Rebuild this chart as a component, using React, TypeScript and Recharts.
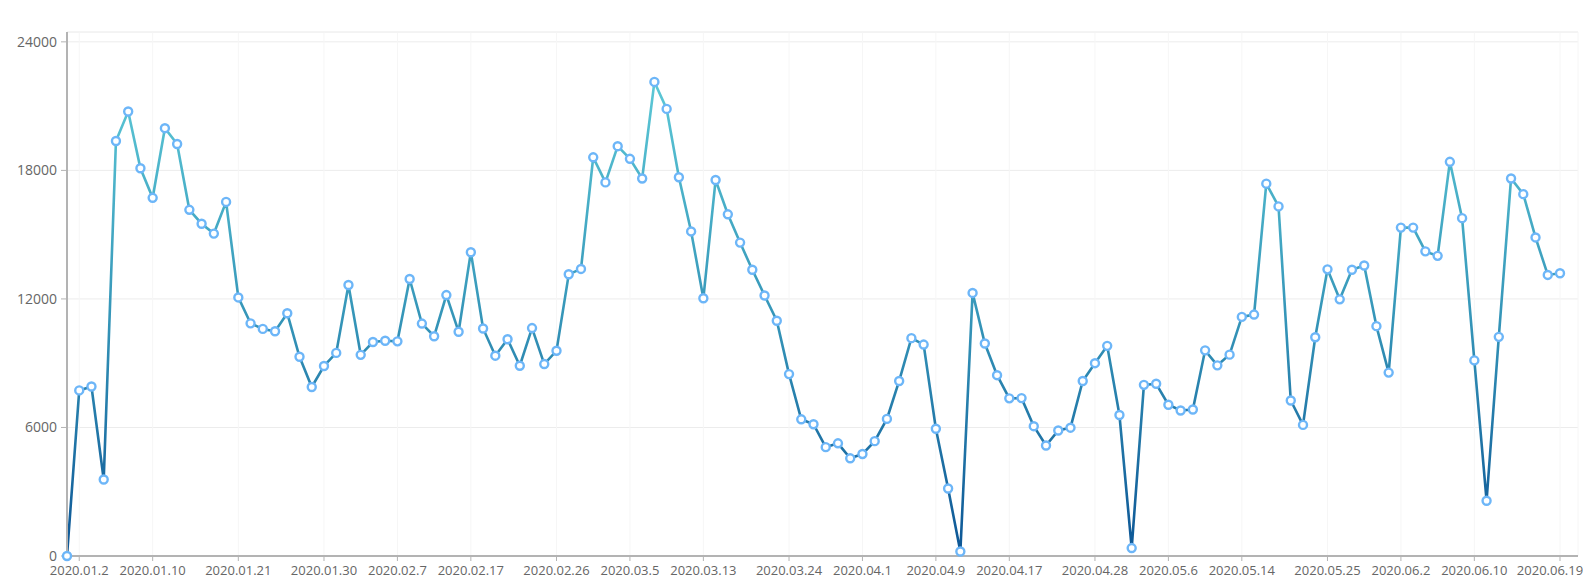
import { CartesianGrid, Line, LineChart, ReferenceLine, XAxis, YAxis } from "recharts";

const DATES: string[] = [
  "2020.01.1", "2020.01.2", "2020.01.3", "2020.01.6", "2020.01.7", "2020.01.8", "2020.01.9", "2020.01.10",
  "2020.01.13", "2020.01.14", "2020.01.15", "2020.01.16", "2020.01.17", "2020.01.20", "2020.01.21",
  "2020.01.22", "2020.01.23", "2020.01.24", "2020.01.27", "2020.01.28", "2020.01.29", "2020.01.30", "2020.01.31",
  "2020.02.3", "2020.02.4", "2020.02.5", "2020.02.6", "2020.02.7", "2020.02.10", "2020.02.11", "2020.02.12",
  "2020.02.13", "2020.02.14", "2020.02.17", "2020.02.18", "2020.02.19", "2020.02.20", "2020.02.21",
  "2020.02.24", "2020.02.25", "2020.02.26", "2020.02.27", "2020.02.28",
  "2020.03.2", "2020.03.3", "2020.03.4", "2020.03.5", "2020.03.6", "2020.03.9", "2020.03.10", "2020.03.11",
  "2020.03.12", "2020.03.13", "2020.03.16", "2020.03.17", "2020.03.18", "2020.03.19", "2020.03.20",
  "2020.03.23", "2020.03.24", "2020.03.25", "2020.03.26", "2020.03.27", "2020.03.30", "2020.03.31",
  "2020.04.1", "2020.04.2", "2020.04.3", "2020.04.6", "2020.04.7", "2020.04.8", "2020.04.9", "2020.04.10",
  "2020.04.13", "2020.04.14", "2020.04.15", "2020.04.16", "2020.04.17", "2020.04.20", "2020.04.21",
  "2020.04.22", "2020.04.23", "2020.04.24", "2020.04.27", "2020.04.28", "2020.04.29", "2020.04.30",
  "2020.05.1", "2020.05.4", "2020.05.5", "2020.05.6", "2020.05.7", "2020.05.8", "2020.05.11", "2020.05.12",
  "2020.05.13", "2020.05.14", "2020.05.15", "2020.05.18", "2020.05.19", "2020.05.20", "2020.05.21",
  "2020.05.22", "2020.05.25", "2020.05.26", "2020.05.27", "2020.05.28", "2020.05.29",
  "2020.06.1", "2020.06.2", "2020.06.3", "2020.06.4", "2020.06.5", "2020.06.8", "2020.06.9", "2020.06.10",
  "2020.06.11", "2020.06.12", "2020.06.15", "2020.06.16", "2020.06.17", "2020.06.18", "2020.06.19",
];

const VALUES: number[] = [
  0, 7730, 7910, 3570, 19370, 20750, 18100, 16720, 19970, 19230,
  16160, 15510, 15050, 16530, 12070, 10860, 10600, 10490, 11330, 9300,
  7890, 8870, 9480, 12650, 9390, 9990, 10050, 10020, 12930, 10850,
  10260, 12180, 10470, 14180, 10620, 9350, 10120, 8880, 10640, 8960,
  9580, 13150, 13400, 18610, 17440, 19130, 18540, 17620, 22130, 20870,
  17680, 15150, 12030, 17550, 15950, 14630, 13360, 12160, 10980, 8490,
  6380, 6150, 5080, 5260, 4560, 4760, 5360, 6400, 8170, 10170,
  9870, 5940, 3150, 210, 12280, 9920, 8440, 7360, 7370, 6060,
  5160, 5860, 5990, 8170, 9000, 9810, 6580, 370, 7990, 8040,
  7060, 6790, 6840, 9600, 8900, 9400, 11160, 11270, 17380, 16320,
  7260, 6120, 10210, 13380, 11980, 13360, 13560, 10730, 8560, 15330,
  15330, 14220, 14010, 18400, 15770, 9130, 2580, 10230, 17620, 16890,
  14870, 13120, 13200,
];

const X_TICKS: string[] = [
  "2020.01.2", "2020.01.10", "2020.01.21", "2020.01.30", "2020.02.7", "2020.02.17", "2020.02.26",
  "2020.03.5", "2020.03.13", "2020.03.24", "2020.04.1", "2020.04.9", "2020.04.17", "2020.04.28",
  "2020.05.6", "2020.05.14", "2020.05.25", "2020.06.2", "2020.06.10", "2020.06.19",
];

const Y_TICKS: number[] = [0, 6000, 12000, 18000, 24000];
const Y_MAX = 24460;

const data = DATES.map((date, i) => ({ date, value: VALUES[i] }));

const AXIS_GREY = "#b3b3b3";
const FONT = "'Open Sans', sans-serif";

// the last date label is nudged left so it stays inside the page
function DateTick({ x, y, payload }: any) {
  const isLast = payload.value === X_TICKS[X_TICKS.length - 1];
  return (
    <text x={x} y={y} dy="0.71em" dx={isLast ? -10 : 0} textAnchor="middle" fill="#666" fontSize={13} fontFamily={FONT}>
      {payload.value}
    </text>
  );
}

export default function App() {
  // cancel the body margin so the chart fills the whole page
  return (
    <div style={{ margin: -8 }}>
      <LineChart width={1591} height={585} data={data} margin={{ top: 32, right: 13, bottom: 0, left: 0 }}>
        <defs>
          <linearGradient id="lineGrad" x1="0" y1="0" x2="0" y2="1">
            <stop offset="0%" stopColor="#5cc8d6" />
            <stop offset="50%" stopColor="#3595b8" />
            <stop offset="100%" stopColor="#0c5595" />
          </linearGradient>
        </defs>
        <CartesianGrid stroke="#ececec" vertical={false} />
        <CartesianGrid stroke="#f6f6f6" horizontal={false} />
        <ReferenceLine y={Y_MAX} stroke="#f2f2f2" />
        <XAxis
          dataKey="date"
          ticks={X_TICKS}
          interval={0}
          padding={{ left: 0, right: 18 }}
          height={29}
          tick={<DateTick />}
          tickSize={5}
          tickMargin={5}
          axisLine={{ stroke: AXIS_GREY, strokeWidth: 2 }}
          tickLine={{ stroke: AXIS_GREY }}
        />
        <YAxis
          domain={[0, Y_MAX]}
          ticks={Y_TICKS}
          interval={0}
          width={67}
          tick={{ fill: "#666", fontSize: 14, fontFamily: FONT }}
          tickSize={6}
          tickMargin={4}
          axisLine={{ stroke: AXIS_GREY, strokeWidth: 2 }}
          tickLine={{ stroke: AXIS_GREY }}
        />
        <Line
          type="linear"
          dataKey="value"
          stroke="url(#lineGrad)"
          strokeWidth={2.6}
          dot={{ r: 4, fill: "#fff", stroke: "#6db6f8", strokeWidth: 2.4 }}
          activeDot={false}
          isAnimationActive={false}
        />
      </LineChart>
    </div>
  );
}
